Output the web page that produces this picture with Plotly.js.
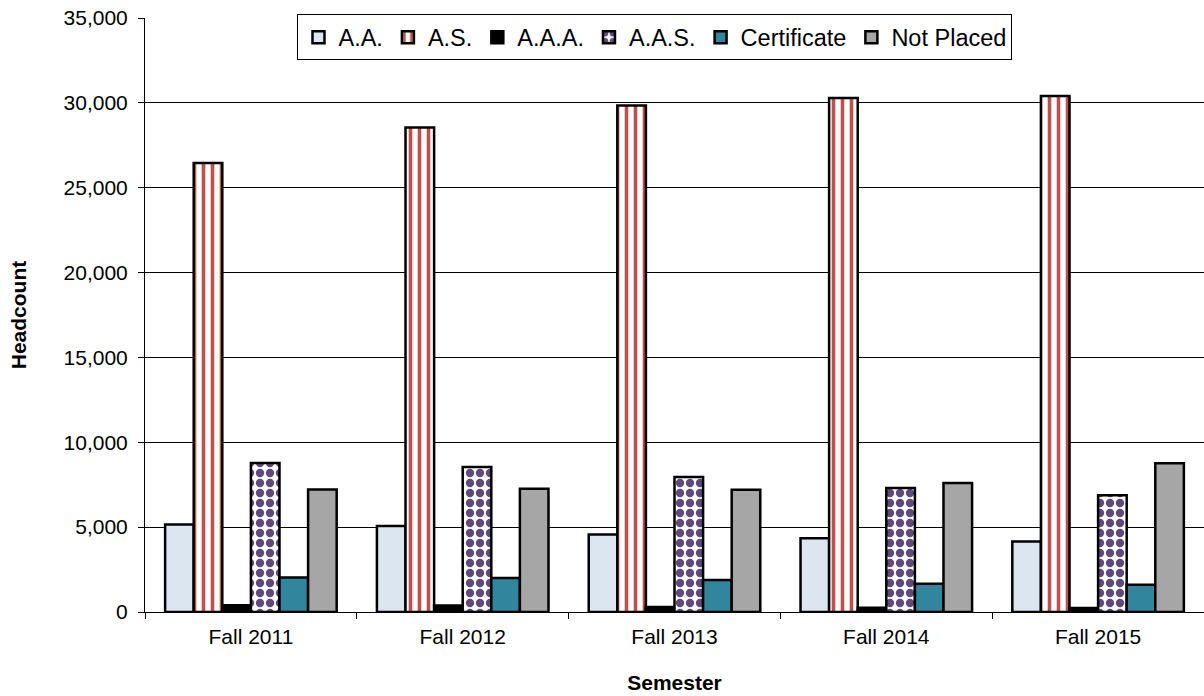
<!DOCTYPE html>
<html>
<head>
<meta charset="utf-8">
<script src="https://cdn.plot.ly/plotly-3.0.1.min.js"></script>
<style>html,body{margin:0;padding:0;background:#fff;}#chart{width:1204px;height:696px;}</style>
</head>
<body>
<div id="chart"></div>
<script>
const semesters = ["Fall 2011", "Fall 2012", "Fall 2013", "Fall 2014", "Fall 2015"];
const aa = [5150, 5070, 4560, 4340, 4150];
const as = [26450, 28550, 29850, 30280, 30400];
const aaa = [400, 380, 300, 250, 230];
const aas = [8780, 8550, 7960, 7300, 6880];
const certificate = [2030, 2000, 1880, 1660, 1600];
const notPlaced = [7220, 7260, 7200, 7600, 8760];

const line = {color: "#000000", width: 2.5};
const traces = [
  {name: "A.A.", y: aa, marker: {color: "#dce6f1", line: line}},
  {name: "A.S.", y: as, marker: {color: "#ffffff", line: line,
     pattern: {shape: "|", fgcolor: "#c0504d", bgcolor: "#ffffff", size: 9, solidity: 0.4}}},
  {name: "A.A.A.", y: aaa, marker: {color: "#000000", line: line}},
  {name: "A.A.S.", y: aas, marker: {color: "#ffffff", line: line,
     pattern: {shape: ".", fgcolor: "#604a7b", bgcolor: "#ffffff", size: 10, solidity: 0.55}}},
  {name: "Certificate", y: certificate, marker: {color: "#31859c", line: line}},
  {name: "Not Placed", y: notPlaced, marker: {color: "#a6a6a6", line: line}}
].map(t => Object.assign({type: "bar", x: semesters, hoverinfo: "y+name"}, t));

const font = {family: "Liberation Sans, Arial, sans-serif", color: "#000000"};
const layout = {
  width: 1204, height: 696,
  margin: {l: 145, r: 0, t: 18, b: 84},
  paper_bgcolor: "#ffffff", plot_bgcolor: "#ffffff",
  font: Object.assign({size: 21}, font),
  barmode: "group", bargap: 0.19, bargroupgap: 0,
  separators: ".,",
  showlegend: true,
  legend: {
    orientation: "h", x: 0.144, y: 1.006, xanchor: "left", yanchor: "top",
    bgcolor: "#ffffff", bordercolor: "#000000", borderwidth: 1,
    font: Object.assign({size: 23.5}, font), itemwidth: 30, traceorder: "normal"
  },
  xaxis: {
    type: "category", showline: true, linecolor: "#000000", linewidth: 1,
    ticks: "outside", tickson: "boundaries", ticklen: 6, tickcolor: "#000000",
    ticklabelstandoff: 6,
    tickfont: Object.assign({size: 21}, font), showgrid: false, zeroline: false,
    title: {text: "<b>Semester</b>", font: Object.assign({size: 21}, font), standoff: 28}
  },
  yaxis: {
    range: [0, 35000], dtick: 5000, tickformat: ",d",
    showline: true, linecolor: "#000000", linewidth: 1,
    ticks: "outside", ticklen: 6, tickcolor: "#000000",
    ticklabelstandoff: 6,
    showgrid: true, gridcolor: "#000000", gridwidth: 1, zeroline: false,
    tickfont: Object.assign({size: 21}, font),
    title: {text: "<b>Headcount</b>", font: Object.assign({size: 21}, font), standoff: 31}
  }
};
Plotly.newPlot("chart", traces, layout, {displayModeBar: false, staticPlot: true});
</script>
</body>
</html>
